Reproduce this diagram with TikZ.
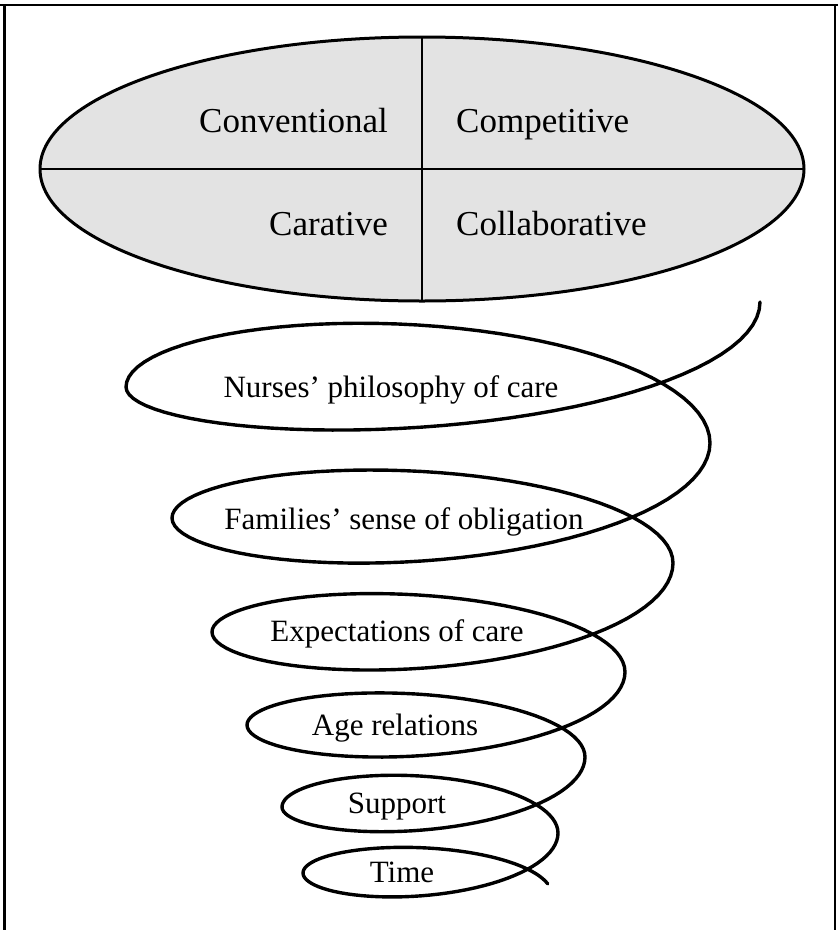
\documentclass[tikz,border=0pt]{standalone}
\usepackage{fontspec}
\setmainfont{Liberation Serif}
\definecolor{capgray}{HTML}{E3E3E3}

\begin{document}
\begin{tikzpicture}[x=1pt, y=-1pt, line join=round,
        quad/.style={inner sep=0pt, font=\fontsize{35}{40}\selectfont},
        ring/.style={inner sep=0pt, anchor=base, font=\fontsize{31}{36}\selectfont},
        spiral/.style={line width=3.4pt, line cap=round}]
    \useasboundingbox (0,0) rectangle (838,930);

    % frame
    \draw[line width=2.8pt] (0,5) -- (838,5);
    \draw[line width=2.8pt] (4.5,5) -- (4.5,930);
    \draw[line width=2.8pt] (835,5) -- (835,930);

    % the four approaches
    \draw[line width=3pt, fill=capgray] (422,169) ellipse (382 and 132);
    \draw[line width=2.6pt] (40,169) -- (804,169);
    \draw[line width=2.6pt] (422,37) -- (422,301);

    \node[quad, anchor=base east] (conv) at (388,132) {Conventional};
    \node[quad, anchor=base west] (comp) at (456,132) {Competitive};
    \node[quad, anchor=base east] (cara) at (388,235) {Carative};
    \node[quad, anchor=base west] (coll) at (456,235) {Collaborative};

    % the spiral, half a turn at a time
    \draw[spiral] (760,302)
        \foreach \xl/\xr/\ya/\yb/\bb/\ta/\tb in {
            126/760/302/387/81/0/180,   126/710/387/443/90/180/360,
            172/710/443/518/79/0/180,   172/673/518/563/69/180/360,
            212/673/563/632/69/0/180,   212/625/632/672/57/180/360,
            247/625/672/725/56/0/180,   247/585/725/757/47/180/360,
            282/585/757/807/47/0/180,   282/558/807/833/44/180/360,
            303/558/833/873/42/0/180,   303/552/873/895/36/180/345} {
            -- plot[domain=\ta:\tb, samples=45, variable=\t]
                ({\xl+(\xr-\xl)*(1+cos(\t))/2}, {\ya+(\yb-\ya)*(\t-\ta)/180+\bb*sin(\t)})
        };

    \node[ring] (nurses) at (391,397) {Nurses’ philosophy of care};
    \node[ring] (families) at (404,529) {Families’ sense of obligation};
    \node[ring] (expect) at (397,641) {Expectations of care};
    \node[ring] (age) at (395,735) {Age relations};
    \node[ring] (support) at (397,813) {Support};
    \node[ring] (time) at (402,882) {Time};
\end{tikzpicture}
\end{document}
